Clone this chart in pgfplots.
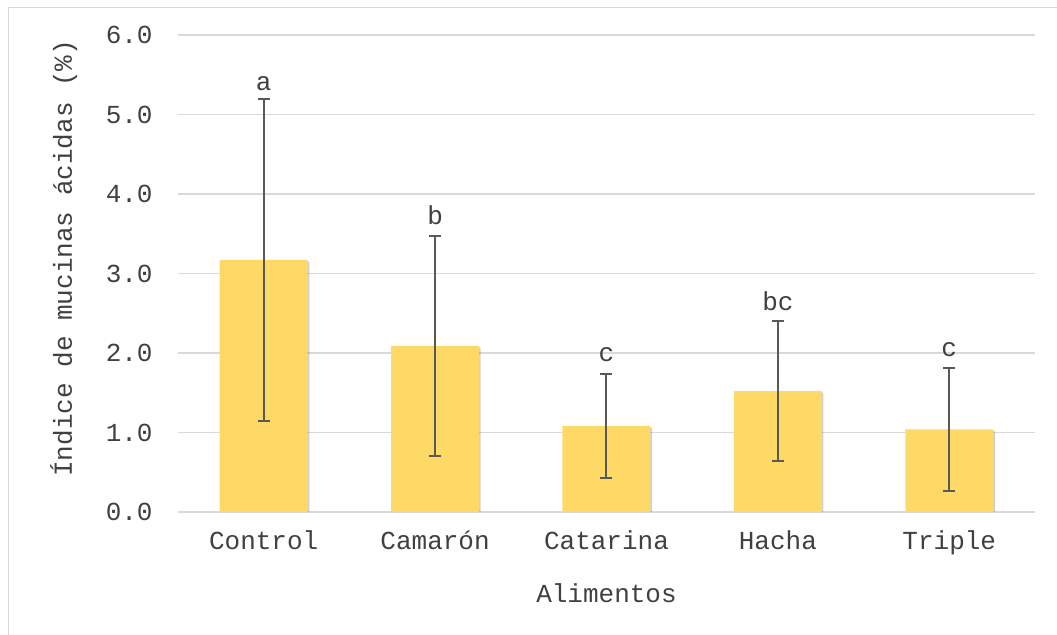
\documentclass[border=0pt]{standalone}
\usepackage{pgfplots}
\pgfplotsset{compat=1.18}
\usepackage{fontspec}
\setmainfont{Liberation Mono}
\usetikzlibrary{shadows}
\definecolor{barfill}{HTML}{FFD966}
\definecolor{gridc}{HTML}{D9D9D9}
\definecolor{errc}{HTML}{595959}
\definecolor{textc}{HTML}{404040}
\begin{document}
\begin{tikzpicture}[font=\fontsize{13}{15}\selectfont]
\path[use as bounding box] (0pt,0pt) rectangle (528.5pt,317.5pt);
\draw[color=gridc, line width=0.75pt] (4.25pt,0pt) -- (4.25pt,313.75pt) -- (528.5pt,313.75pt);
\begin{axis}[
  at={(89pt,61.5pt)}, anchor=south west,
  scale only axis, width=428.5pt, height=238.5pt,
  xmin=-0.5, xmax=4.5, ymin=0, ymax=6,
  ytick={0,1,2,3,4,5,6},
  xtick={0,1,2,3,4},
  xticklabels={Control,Camarón,Catarina,Hacha,Triple},
  ymajorgrids, grid style={color=gridc, line width=0.75pt},
  axis line style={draw=none}, major tick length=0pt,
  yticklabel style={anchor=east, inner sep=0pt, xshift=-12.5pt, text=textc,
    /pgf/number format/fixed, /pgf/number format/fixed zerofill,
    /pgf/number format/precision=1, /pgf/number format/assume math mode=true},
  xticklabel style={anchor=base, inner sep=0pt, yshift=-19pt, text=textc},
  xlabel={Alimentos},
  every axis x label/.style={at={(axis description cs:0.5,0)}, anchor=base, yshift=-45.5pt, text=textc, inner sep=0pt},
  ylabel={Índice de mucinas ácidas (\%)},
  every axis y label/.style={at={(axis description cs:-0.1237,0.532)}, rotate=90, anchor=base, text=textc, inner sep=0pt},
]
\addplot[ybar, bar width=44pt, fill=barfill, draw=none,
  drop shadow={shadow xshift=0.8pt, shadow yshift=-0.8pt, opacity=0.18, fill=black},
  error bars/.cd, y dir=both, y explicit,
  error bar style={color=errc, line width=1pt},
  error mark options={color=errc, line width=1pt, mark size=3pt, rotate=90}]
coordinates {
  (0,3.17) +- (0,2.02)
  (1,2.09) +- (0,1.38)
  (2,1.08) +- (0,0.65)
  (3,1.52) +- (0,0.88)
  (4,1.04) +- (0,0.77)
};
\addplot[only marks, mark=none, nodes near coords, point meta=explicit symbolic,
  nodes near coords style={anchor=base, inner sep=0pt, text=textc}]
coordinates {
  (0,5.30) [a]
  (1,3.61) [b]
  (2,1.89) [c]
  (3,2.54) [bc]
  (4,1.95) [c]
};
\end{axis}
\end{tikzpicture}
\end{document}
